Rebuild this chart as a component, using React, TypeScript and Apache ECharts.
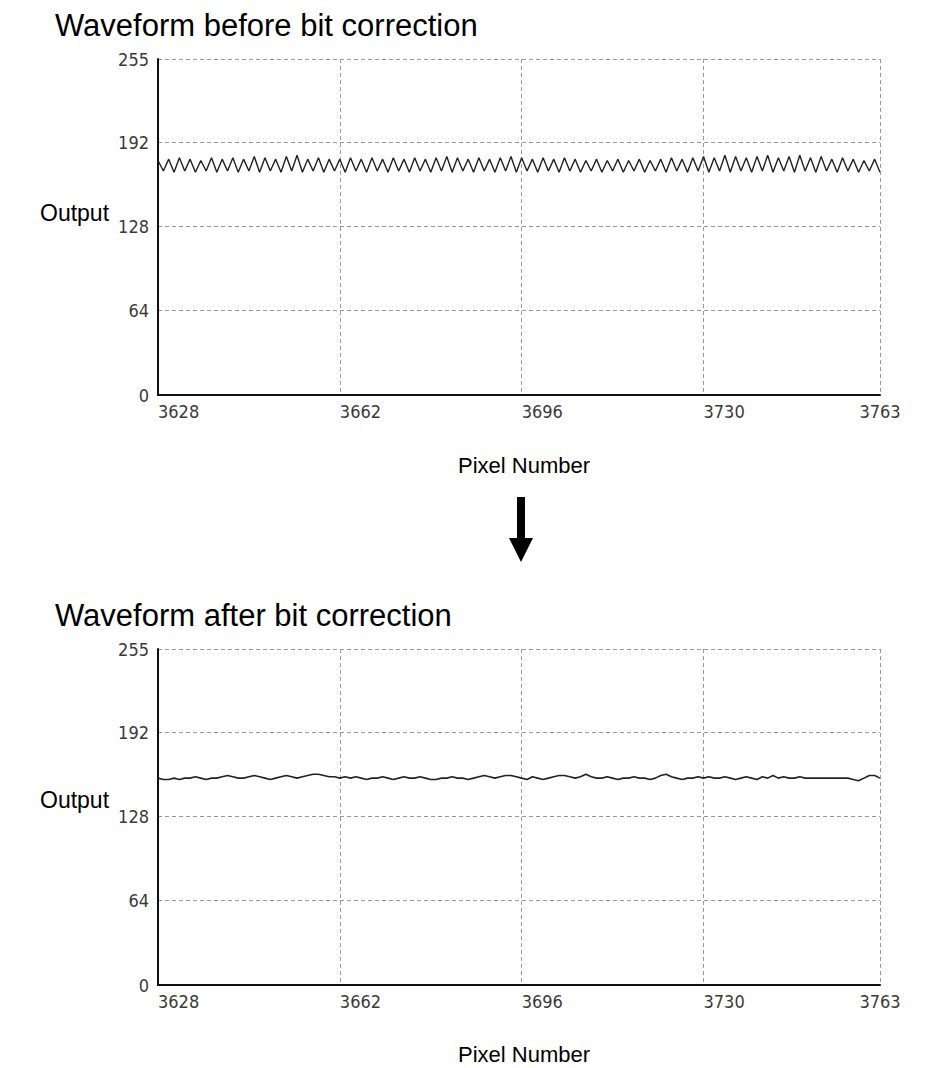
import React, { useEffect, useRef } from "react";
import * as echarts from "echarts";

const pixelStart = 3628;
const pixelEnd = 3763;
const xTickInterval = 34;
const yTickInterval = 64;
const yMax = 255;

const topTitle = "Waveform before bit correction";
const bottomTitle = "Waveform after bit correction";
const yAxisName = "Output";
const xAxisName = "Pixel Number";

const beforeValues = [
  178, 170, 179, 169, 180, 170, 179, 169, 178, 170,
  180, 169, 179, 170, 180, 169, 179, 170, 181, 169,
  180, 170, 179, 169, 181, 170, 182, 169, 179, 170,
  180, 169, 179, 170, 179, 169, 180, 170, 179, 169,
  180, 170, 179, 169, 180, 170, 179, 169, 180, 170,
  179, 169, 180, 170, 181, 169, 180, 170, 179, 169,
  180, 170, 179, 169, 180, 170, 181, 169, 180, 170,
  179, 169, 180, 170, 179, 169, 180, 170, 179, 169,
  178, 170, 179, 169, 178, 170, 179, 169, 178, 170,
  179, 169, 178, 170, 179, 169, 180, 170, 179, 169,
  180, 170, 181, 169, 180, 170, 182, 169, 181, 170,
  180, 169, 181, 170, 182, 169, 180, 170, 181, 169,
  182, 170, 180, 169, 181, 170, 179, 169, 180, 170,
  179, 169, 178, 170, 179, 169,
];

const afterValues = [
  157, 156, 156, 157, 156, 157, 157, 158, 157, 156,
  157, 157, 158, 159, 158, 157, 157, 158, 159, 158,
  157, 156, 157, 158, 159, 158, 157, 158, 159, 160,
  160, 159, 158, 158, 157, 158, 157, 158, 157, 156,
  157, 157, 158, 157, 156, 157, 158, 157, 157, 158,
  157, 156, 156, 157, 157, 158, 157, 157, 156, 157,
  158, 159, 158, 157, 158, 159, 159, 158, 157, 156,
  158, 157, 156, 157, 158, 159, 159, 158, 157, 158,
  160, 158, 157, 157, 158, 157, 156, 157, 157, 158,
  157, 157, 156, 157, 159, 160, 158, 157, 156, 157,
  157, 158, 157, 158, 157, 157, 158, 157, 156, 157,
  158, 157, 156, 158, 157, 159, 157, 158, 157, 157,
  158, 157, 157, 157, 157, 157, 157, 157, 157, 157,
  156, 155, 157, 159, 159, 157,
];

const toPoints = (vals: number[]) => vals.map((v, i) => [pixelStart + i, v]);

const tickFont = {
  fontFamily: "'Liberation Sans Narrow', 'DejaVu Sans Condensed', sans-serif",
  fontSize: 18,
  color: "#3a3a3a",
};

const gridLine = {
  show: true,
  lineStyle: { color: "#9a9a9a", type: [4, 3] as any, width: 1 },
};

const plain = (v: number) => String(v);

function makeXAxis(gridIndex: number) {
  return {
    type: "value",
    gridIndex,
    min: pixelStart,
    max: pixelEnd,
    interval: xTickInterval,
    axisLine: { show: true, onZero: false, lineStyle: { color: "#111", width: 2 } },
    axisTick: { show: false },
    splitLine: gridLine,
    axisLabel: {
      ...tickFont,
      formatter: plain,
      margin: 7,
      align: "left",
      alignMaxLabel: "center",
      showMaxLabel: true,
      showMinLabel: true,
      hideOverlap: false,
    },
  };
}

function makeYAxis(gridIndex: number) {
  return {
    type: "value",
    gridIndex,
    min: 0,
    max: yMax,
    interval: yTickInterval,
    axisLine: { show: true, onZero: false, lineStyle: { color: "#111", width: 2 } },
    axisTick: { show: false },
    splitLine: gridLine,
    axisLabel: {
      ...tickFont,
      formatter: plain,
      margin: 9,
      showMaxLabel: true,
      showMinLabel: true,
    },
  };
}

const textFont = "'Liberation Sans', Arial, sans-serif";

export default function App() {
  const ref = useRef<HTMLDivElement>(null);
  useEffect(() => {
    if (!ref.current) return;
    const chart = echarts.init(ref.current, null, { renderer: "svg" });
    const bigText = (text: string, x: number, y: number, size: number, align = "left") => ({
      type: "text",
      x,
      y,
      style: {
        text,
        fontFamily: textFont,
        fontSize: size,
        fill: "#000",
        align,
        verticalAlign: "middle",
      },
    });
    chart.setOption({
      animation: false,
      backgroundColor: "#fff",
      grid: [
        { left: 158, right: 45, top: 59, height: 336, containLabel: false },
        { left: 158, right: 45, top: 649, height: 336, containLabel: false },
      ],
      xAxis: [makeXAxis(0), makeXAxis(1)],
      yAxis: [makeYAxis(0), makeYAxis(1)],
      series: [
        {
          type: "line",
          xAxisIndex: 0,
          yAxisIndex: 0,
          data: toPoints(beforeValues),
          showSymbol: false,
          lineStyle: { color: "#222", width: 1.4 },
        },
        {
          type: "line",
          xAxisIndex: 1,
          yAxisIndex: 1,
          data: toPoints(afterValues),
          showSymbol: false,
          lineStyle: { color: "#222", width: 1.6 },
        },
      ],
      graphic: [
        bigText(topTitle, 55, 25, 31),
        bigText(yAxisName, 40, 213, 23),
        bigText(xAxisName, 524, 465, 22, "center"),
        bigText(bottomTitle, 55, 615, 31),
        bigText(yAxisName, 40, 800, 23),
        bigText(xAxisName, 524, 1054, 22, "center"),
        {
          type: "rect",
          shape: { x: 517, y: 497, width: 8, height: 44 },
          style: { fill: "#000" },
        },
        {
          type: "polygon",
          shape: { points: [[509, 538], [533, 538], [521, 562]] },
          style: { fill: "#000" },
        },
      ],
    });
    return () => chart.dispose();
  }, []);
  return (
    <div
      ref={ref}
      style={{ position: "fixed", left: 0, top: 0, width: 925, height: 1068 }}
    />
  );
}
